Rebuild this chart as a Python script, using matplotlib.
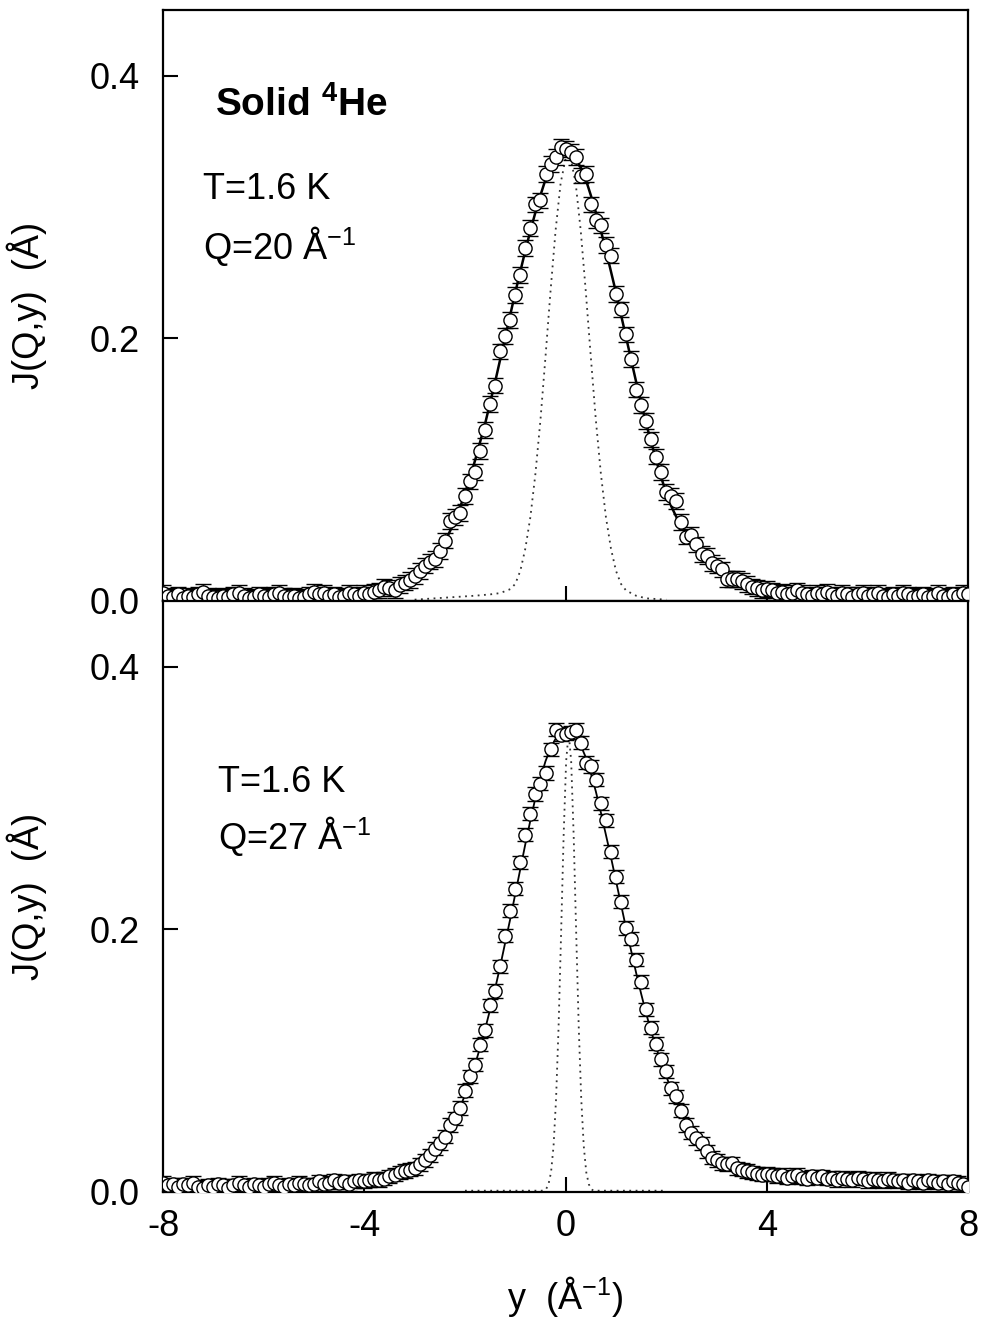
import matplotlib
matplotlib.use("Agg")
import matplotlib.pyplot as plt
import numpy as np

plt.rcParams['font.family'] = ['Liberation Sans', 'DejaVu Sans']
plt.rcParams['mathtext.fontset'] = 'custom'
plt.rcParams['mathtext.rm'] = 'Liberation Sans'
plt.rcParams['mathtext.bf'] = 'Liberation Sans:bold'
plt.rcParams['axes.unicode_minus'] = False

# y grid, -8 .. 8 in steps of 0.1 (1/A)
y = np.round(np.linspace(-8, 8, 161), 1)

# ---- top panel: Q = 20 1/A ----
j_top = [
    0.006, 0.004, 0.003, 0.005, 0.002, 0.004, 0.003, 0.005, 0.007, 0.004,
    0.003, 0.002, 0.004, 0.003, 0.005, 0.006, 0.004, 0.002, 0.003, 0.005,
    0.004, 0.003, 0.005, 0.006, 0.004, 0.003, 0.004, 0.002, 0.003, 0.005,
    0.007, 0.005, 0.006, 0.004, 0.005, 0.003, 0.004, 0.006, 0.005, 0.004,
    0.006, 0.005, 0.007, 0.008,
    0.011, 0.010, 0.008, 0.012, 0.014, 0.016, 0.019, 0.023, 0.027, 0.030,
    0.032, 0.038, 0.046, 0.061, 0.064, 0.067, 0.080, 0.091, 0.098, 0.114,
    0.130, 0.150, 0.164, 0.190, 0.202, 0.214, 0.233, 0.248, 0.269, 0.284,
    0.302, 0.305, 0.325, 0.333, 0.338, 0.346,
    0.344, 0.342, 0.338, 0.324, 0.325, 0.302, 0.290, 0.286, 0.271, 0.263,
    0.234, 0.222, 0.203, 0.184, 0.161, 0.149, 0.137, 0.123, 0.110, 0.098,
    0.083, 0.080, 0.076, 0.060, 0.049, 0.050, 0.043, 0.036, 0.034, 0.029,
    0.027, 0.024, 0.017, 0.017, 0.017, 0.015, 0.013, 0.011, 0.010, 0.008,
    0.009,
    0.008, 0.006, 0.007, 0.005, 0.006, 0.008, 0.006, 0.005, 0.004, 0.006,
    0.005, 0.007, 0.005, 0.004, 0.006, 0.005, 0.003, 0.005, 0.006, 0.004,
    0.005, 0.006, 0.004, 0.003, 0.005, 0.004, 0.006, 0.005, 0.003, 0.004,
    0.005, 0.003, 0.004, 0.006, 0.004, 0.003, 0.005, 0.004, 0.006, 0.005,
]
fit_top = (
    [0.004] * 30 + [0.005] * 10 +
    [0.005, 0.006, 0.006, 0.007, 0.008, 0.009, 0.010, 0.011, 0.012, 0.014,
     0.017, 0.020, 0.024, 0.028, 0.033, 0.039, 0.045, 0.053, 0.061, 0.071,
     0.082, 0.094, 0.107, 0.121, 0.135, 0.151, 0.167, 0.184, 0.201, 0.218,
     0.235, 0.251, 0.267, 0.282, 0.296, 0.309, 0.321, 0.330, 0.337, 0.341,
     0.343,
     0.341, 0.337, 0.330, 0.321, 0.309, 0.296, 0.282, 0.267, 0.251, 0.235,
     0.218, 0.201, 0.184, 0.167, 0.151, 0.135, 0.121, 0.107, 0.094, 0.082,
     0.072, 0.064, 0.057, 0.051, 0.046, 0.041, 0.036, 0.032, 0.029, 0.026,
     0.023, 0.020, 0.018, 0.016, 0.014, 0.012, 0.011, 0.010, 0.009, 0.008,
     0.007, 0.007, 0.006, 0.006, 0.006] + [0.005] * 35
)
err_top = 0.006
res_y_top = [-3.0, -2.6, -2.2, -1.8, -1.5, -1.3, -1.1,
             -1.0, -0.9, -0.8, -0.7, -0.6, -0.5, -0.4, -0.3, -0.2, -0.1, 0.0,
             0.1, 0.2, 0.3, 0.4, 0.5, 0.6, 0.7, 0.8, 0.9, 1.0, 1.1, 1.2,
             1.4, 1.6, 2.0]
res_j_top = [0.001, 0.002, 0.003, 0.004, 0.005, 0.006, 0.009,
             0.013, 0.023, 0.040, 0.064, 0.097, 0.138, 0.186, 0.236, 0.282, 0.318, 0.337,
             0.337, 0.318, 0.282, 0.236, 0.186, 0.138, 0.097, 0.064, 0.040, 0.023, 0.013, 0.008,
             0.004, 0.002, 0.001]

# ---- bottom panel: Q = 27 1/A ----
j_bot = [
    0.007, 0.005, 0.006, 0.004, 0.006, 0.005, 0.007, 0.004, 0.003, 0.005,
    0.004, 0.006, 0.005, 0.003, 0.005, 0.007, 0.005, 0.004, 0.006, 0.005,
    0.004, 0.006, 0.007, 0.005, 0.004, 0.006, 0.005, 0.007, 0.006, 0.005,
    0.006, 0.008, 0.006, 0.007, 0.009, 0.007, 0.008, 0.006, 0.008, 0.009,
    0.008, 0.009, 0.010, 0.009,
    0.010, 0.012, 0.013, 0.015, 0.016, 0.017, 0.018, 0.021, 0.024, 0.028,
    0.033, 0.037, 0.042, 0.051, 0.056, 0.064, 0.077, 0.088, 0.097, 0.112,
    0.123, 0.142, 0.153, 0.172, 0.195, 0.214, 0.231, 0.251, 0.272, 0.288,
    0.303, 0.311, 0.319, 0.337, 0.352, 0.348,
    0.349, 0.350, 0.352, 0.342, 0.327, 0.324, 0.314, 0.296, 0.283, 0.259,
    0.240, 0.221, 0.201, 0.193, 0.177, 0.160, 0.139, 0.125, 0.113, 0.101,
    0.092, 0.079, 0.073, 0.062, 0.051, 0.045, 0.041, 0.037, 0.031, 0.026,
    0.024, 0.022, 0.021, 0.022, 0.018, 0.017, 0.016, 0.015, 0.014, 0.013,
    0.014,
    0.013, 0.012, 0.013, 0.011, 0.012, 0.013, 0.011, 0.010, 0.012, 0.011,
    0.012, 0.010, 0.011, 0.009, 0.011, 0.010, 0.009, 0.011, 0.010, 0.008,
    0.010, 0.009, 0.008, 0.010, 0.009, 0.008, 0.009, 0.007, 0.009, 0.008,
    0.007, 0.009, 0.008, 0.007, 0.008, 0.006, 0.008, 0.007, 0.006, 0.004,
]
fit_bot = (
    [0.005] * 20 + [0.006] * 10 + [0.007] * 10 +
    [0.008, 0.009, 0.009, 0.010, 0.011, 0.012, 0.013, 0.014, 0.015, 0.017,
     0.019, 0.021, 0.024, 0.027, 0.031, 0.036, 0.042, 0.048, 0.056, 0.064,
     0.074, 0.085, 0.097, 0.110, 0.124, 0.139, 0.155, 0.172, 0.190, 0.208,
     0.227, 0.246, 0.265, 0.283, 0.300, 0.315, 0.328, 0.338, 0.345, 0.350,
     0.352,
     0.351, 0.347, 0.340, 0.331, 0.319, 0.305, 0.289, 0.272, 0.255, 0.237,
     0.219, 0.201, 0.184, 0.167, 0.151, 0.136, 0.122, 0.110, 0.098, 0.088,
     0.078, 0.069, 0.061, 0.054, 0.048, 0.043, 0.038, 0.034, 0.030, 0.027,
     0.025, 0.023, 0.021, 0.019, 0.018, 0.017, 0.016, 0.015, 0.014, 0.014] +
    [0.013] * 5 + [0.012] * 5 + [0.011] * 10 + [0.010] * 5 + [0.009] * 5 + [0.008] * 10
)
err_bot = 0.005
res_y_bot = [-2.0, -1.5, -1.0, -0.6,
             -0.44, -0.39, -0.34, -0.29, -0.24, -0.19, -0.14, -0.09, -0.04, 0.01, 0.06,
             0.11, 0.16, 0.21, 0.26, 0.31, 0.36, 0.41, 0.46, 0.51, 0.56,
             0.7, 1.0, 1.5, 2.0]
res_j_bot = [0.001, 0.001, 0.001, 0.001,
             0.001, 0.002, 0.006, 0.015, 0.035, 0.071, 0.126, 0.197, 0.271, 0.328, 0.350,
             0.328, 0.271, 0.197, 0.126, 0.071, 0.035, 0.015, 0.006, 0.002, 0.001,
             0.001, 0.001, 0.001, 0.001]

panels = [
    (j_top, fit_top, err_top, res_y_top, res_j_top, 1.8),
    (j_bot, fit_bot, err_bot, res_y_bot, res_j_bot, 1.3),
]

FS = 26

fig = plt.figure(figsize=(9.82, 13.24), dpi=100)
ax_top = fig.add_axes([0.166, 0.5461, 0.820, 0.4463])
ax_bot = fig.add_axes([0.166, 0.0997, 0.820, 0.4464], sharex=ax_top)

for ax, (jd, jf, err, ry, rj, lw) in zip([ax_top, ax_bot], panels):
    ax.plot(y, jf, color='black', lw=lw, zorder=2)
    ax.plot(ry, rj, color='#333333', lw=1.3, ls=(0, (1, 2.5)), zorder=1)
    ax.errorbar(y, jd, yerr=err, fmt='o', ms=9.5, mfc='white', mec='black',
                mew=1.0, ecolor='black', elinewidth=0.9, capsize=6,
                capthick=0.9, zorder=3)
    ax.set_xlim(-8, 8)
    ax.set_ylim(0, 0.45)
    ax.set_yticks([0.0, 0.2, 0.4])
    ax.set_yticklabels(['0.0', '0.2', '0.4'])
    ax.set_xticks([-8, -4, 0, 4, 8])
    ax.tick_params(direction='in', length=11, width=1.5, labelsize=FS, pad=12)
    ax.tick_params(axis='y', pad=17)
    for s in ax.spines.values():
        s.set_linewidth(1.6)
    ax.set_ylabel("J(Q,y)  (Å)", fontsize=FS, labelpad=30)

ax_top.text(-7.2, 0.313, "T=1.6 K", fontsize=FS, va='center')
ax_top.text(-7.2, 0.270, "Q=20 Å$^{-1}$", fontsize=FS, va='center')
ax_top.text(-6.97, 0.378, r"Solid $^\mathbf{4}$He", fontsize=28,
            fontweight='bold', va='center')
ax_bot.text(-6.9, 0.312, "T=1.6 K", fontsize=FS, va='center')
ax_bot.text(-6.9, 0.271, "Q=27 Å$^{-1}$", fontsize=FS, va='center')

ax_top.tick_params(labelbottom=False)
ax_bot.set_xticklabels(['-8', '-4', '0', '4', '8'])
ax_bot.set_xlabel("y  (Å$^{-1}$)", fontsize=FS, labelpad=22)

fig.savefig("out.png", dpi=100)
